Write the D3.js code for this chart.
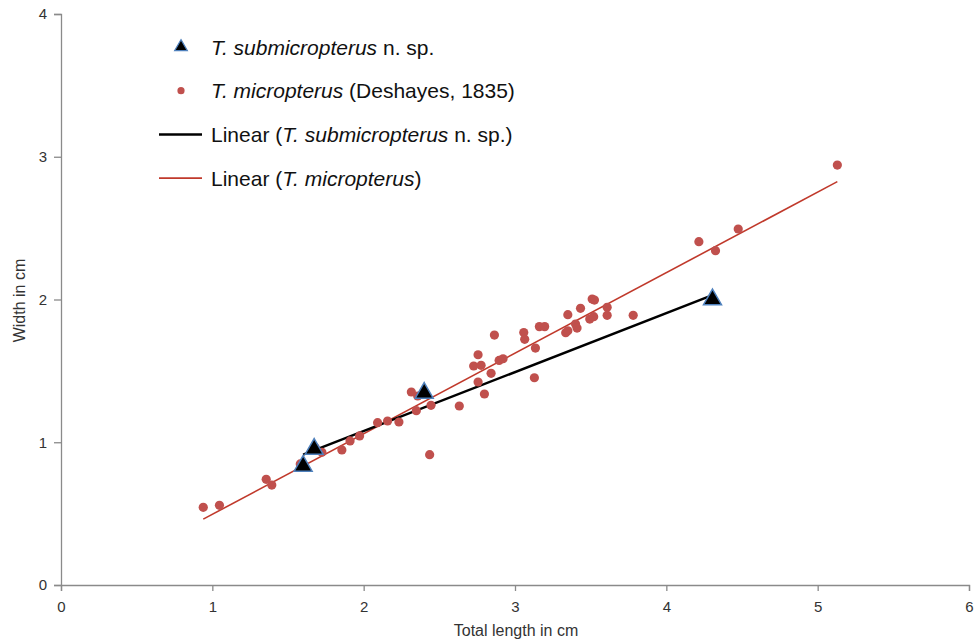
<!DOCTYPE html>
<html>
<head>
<meta charset="utf-8">
<script src="https://cdn.jsdelivr.net/npm/d3@7"></script>
<style>
  body { margin: 0; background: #fff; }
  text { font-family: "Liberation Sans", Arial, sans-serif; }
</style>
</head>
<body>
<svg id="graph"></svg>
<script>
// T. submicropterus n. sp. (total length, width)
const subLength = [1.60, 1.673, 2.40, 4.305]
const subWidth = [0.834, 0.953, 1.345, 2.00]

// T. micropterus (Deshayes, 1835)
const microLength = [0.94, 1.047, 1.356, 1.393, 1.581, 1.68, 1.724, 1.856, 1.91, 1.973,
  2.092, 2.158, 2.233, 2.315, 2.357, 2.348, 2.445, 2.436, 2.632, 2.756,
  2.727, 2.776, 2.756, 2.798, 2.842, 2.864, 2.895, 2.921, 3.058, 3.064,
  3.135, 3.128, 3.161, 3.196, 3.335, 3.349, 3.349, 3.40, 3.41, 3.433,
  3.494, 3.52, 3.51, 3.525, 3.609, 3.609, 3.781, 4.215, 4.325, 4.475, 5.13]
const microWidth = [0.544, 0.558, 0.74, 0.70, 0.848, 0.962, 0.93, 0.946, 1.009, 1.044,
  1.137, 1.149, 1.142, 1.352, 1.324, 1.221, 1.259, 0.913, 1.254, 1.613,
  1.534, 1.539, 1.422, 1.338, 1.483, 1.751, 1.573, 1.585, 1.768, 1.721,
  1.66, 1.452, 1.81, 1.81, 1.767, 1.781, 1.894, 1.828, 1.80, 1.938,
  1.863, 1.88, 2.003, 1.996, 1.945, 1.889, 1.889, 2.405, 2.342, 2.494, 2.942]

const xTicks = [0, 1, 2, 3, 4, 5, 6]
const yTicks = [0, 1, 2, 3, 4]

const legendLabels = [
  [{t: 'T. submicropterus', i: true}, {t: ' n. sp.'}],
  [{t: 'T. micropterus', i: true}, {t: ' (Deshayes, 1835)'}],
  [{t: 'Linear ('}, {t: 'T. submicropterus', i: true}, {t: ' n. sp.)'}],
  [{t: 'Linear ('}, {t: 'T. micropterus', i: true}, {t: ')'}]
]

const red = '#c0504d'
const redLine = '#c0392b'

function fit(xs, ys) {
  let mx = d3.mean(xs), my = d3.mean(ys)
  let sxy = d3.sum(xs, (x, i) => (x - mx) * (ys[i] - my))
  let sxx = d3.sum(xs, x => (x - mx) * (x - mx))
  let slope = sxy / sxx
  let icpt = my - slope * mx
  let [x0, x1] = d3.extent(xs)
  return [[x0, icpt + slope * x0], [x1, icpt + slope * x1]]
}

function drawGraph() {
  let margin = {top: 14, bottom: 56, left: 61, right: 5}
  let fullWidth = 974, fullHeight = 641
  let width = fullWidth - margin.left - margin.right
  let height = fullHeight - margin.top - margin.bottom

  let svg = d3.select('svg#graph')
              .attr('width', fullWidth)
              .attr('height', fullHeight)

  svg.append('rect').attr('width', fullWidth).attr('height', fullHeight).attr('fill', '#fff')

  let graph = svg.append('g')
                 .attr('transform', 'translate(' + margin.left + ',' + margin.top + ')')

  let x = d3.scaleLinear().domain([0, 6]).range([0, width])
  let y = d3.scaleLinear().domain([0, 4]).range([height, 0])

  let xAxis = graph.append('g')
    .attr('transform', 'translate(0,' + height + ')')
    .call(d3.axisBottom(x).tickValues(xTicks).tickFormat(d3.format('d')).tickSize(6).tickPadding(10))
  let yAxis = graph.append('g')
    .call(d3.axisLeft(y).tickValues(yTicks).tickFormat(d3.format('d')).tickSize(7).tickPadding(7))

  for (let ax of [xAxis, yAxis]) {
    ax.select('.domain').attr('stroke', '#8a8a8a').attr('stroke-width', 1.3)
    ax.selectAll('.tick line').attr('stroke', '#8a8a8a').attr('stroke-width', 1.3)
    ax.selectAll('.tick text').attr('fill', '#333').style('font-size', '15px')
      .style('font-family', '"Liberation Sans", Arial, sans-serif')
  }

  svg.append('text')
    .attr('x', 516).attr('y', 636)
    .attr('text-anchor', 'middle').attr('fill', '#333').style('font-size', '16px')
    .text('Total length in cm')
  svg.append('text')
    .attr('transform', 'translate(25,' + (margin.top + height / 2 + 1) + ') rotate(-90)')
    .attr('text-anchor', 'middle').attr('fill', '#333').style('font-size', '16px')
    .text('Width in cm')

  let line = d3.line().x(d => x(d[0])).y(d => y(d[1]))

  // trend lines
  graph.append('path').datum(fit(microLength, microWidth))
    .attr('d', line).attr('stroke', redLine).attr('stroke-width', 1.6).attr('fill', 'none')
  graph.append('path').datum(fit(subLength, subWidth))
    .attr('d', line).attr('stroke', '#000').attr('stroke-width', 2.5).attr('fill', 'none')

  // micropterus points
  graph.selectAll('circle.micro').data(microLength)
    .join('circle').attr('class', 'micro')
    .attr('cx', d => x(d)).attr('cy', (d, i) => y(microWidth[i]))
    .attr('r', 4.6).attr('fill', red)

  // submicropterus triangles
  let tri = d3.symbol().type(d3.symbolTriangle).size(140)
  graph.selectAll('path.sub').data(subLength)
    .join('path').attr('class', 'sub')
    .attr('d', tri)
    .attr('transform', (d, i) => 'translate(' + x(d) + ',' + y(subWidth[i]) + ')')
    .attr('fill', '#000').attr('stroke', '#4f81bd').attr('stroke-width', 1.5)

  // legend
  let legend = svg.append('g').attr('transform', 'translate(159,47)')
  let rowGap = 43.7
  legendLabels.forEach((parts, i) => {
    let row = legend.append('g').attr('transform', 'translate(0,' + (i * rowGap) + ')')
    if (i === 0) {
      row.append('path').attr('d', d3.symbol().type(d3.symbolTriangle).size(70))
        .attr('transform', 'translate(22,0)')
        .attr('fill', '#000').attr('stroke', '#4f81bd').attr('stroke-width', 1.2)
    } else if (i === 1) {
      row.append('circle').attr('cx', 22).attr('cy', 0).attr('r', 3.6).attr('fill', red)
    } else {
      row.append('line').attr('x1', 0).attr('x2', 43).attr('y1', 0).attr('y2', 0)
        .attr('stroke', i === 2 ? '#000' : redLine).attr('stroke-width', i === 2 ? 2.5 : 1.6)
    }
    let txt = row.append('text').attr('x', 52).attr('y', 7.5)
      .attr('fill', '#111').style('font-size', '21px')
    parts.forEach(p => {
      txt.append('tspan').style('font-style', p.i ? 'italic' : 'normal').text(p.t)
    })
  })
}

drawGraph()
</script>
</body>
</html>
